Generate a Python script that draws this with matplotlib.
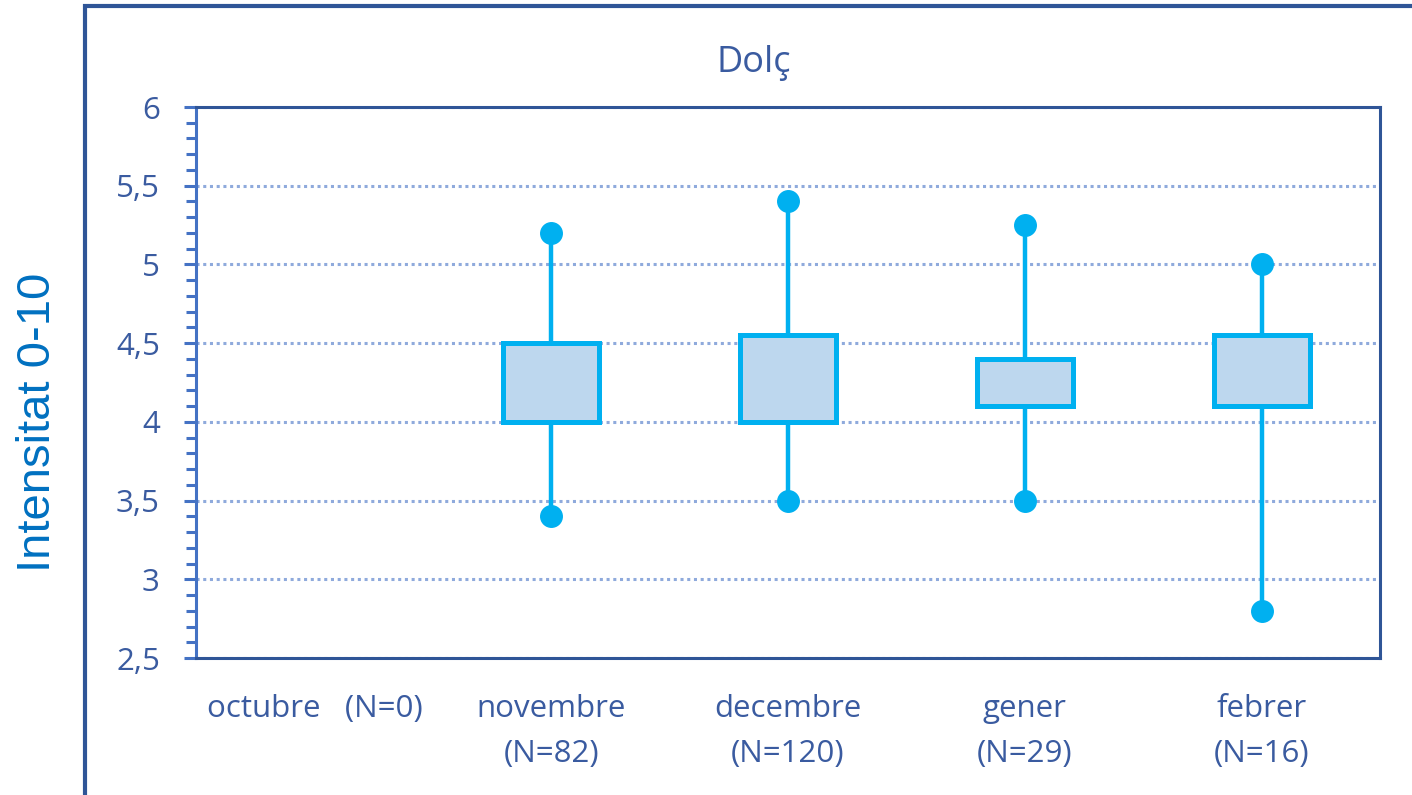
import matplotlib
matplotlib.use("Agg")
import matplotlib.pyplot as plt
import numpy as np
from matplotlib.patches import Rectangle
from matplotlib.ticker import MultipleLocator, FuncFormatter

months = ["octubre   (N=0)", "novembre\n(N=82)", "decembre\n(N=120)", "gener\n(N=29)", "febrer\n(N=16)"]
whisker_high = [np.nan, 5.2, 5.4, 5.25, 5.0]
box_high = [np.nan, 4.5, 4.55, 4.4, 4.55]
box_low = [np.nan, 4.0, 4.0, 4.1, 4.1]
whisker_low = [np.nan, 3.4, 3.5, 3.5, 2.8]
title = "Dolç"
ylabel = "Intensitat 0-10"

TXT = "#3A5BA0"
SPINE = "#2F5597"
CYAN = "#00B0F0"
FILL = "#BDD7EE"
GRID = "#8FAADC"

fig = plt.figure(figsize=(14.12, 7.95), dpi=100)
fig.patch.set_facecolor("white")

# outer frame
fig.patches.append(Rectangle((85/1412, -0.05), 1.2, 1 - 6/795 + 0.05, transform=fig.transFigure,
                             fill=False, edgecolor=SPINE, linewidth=3.0, zorder=0))

ax = fig.add_axes([196/1412, 1 - 658/795, (1380-196)/1412, (658-107)/795])
x = np.arange(len(months))

ax.set_ylim(2.5, 6)
ax.set_xlim(-0.5, len(months) - 0.5)

ax.yaxis.set_major_locator(MultipleLocator(0.5))
ax.yaxis.set_minor_locator(MultipleLocator(0.1))
ax.yaxis.set_major_formatter(FuncFormatter(lambda v, p: ("%g" % v).replace(".", ",")))
ax.grid(axis="y", which="major", color=GRID, linestyle=(0, (1, 1.2)), linewidth=2.2)
ax.set_axisbelow(True)

wl = np.array(whisker_low); wh = np.array(whisker_high)
bl = np.array(box_low); bh = np.array(box_high)
ax.vlines(x, wl, wh, color=CYAN, linewidth=3.2, zorder=2)
ax.bar(x, bh - bl, bottom=bl, width=0.405, color=FILL, edgecolor=CYAN, linewidth=3.6, zorder=3)
ax.plot(x, wh, "o", color=CYAN, markersize=15.5, zorder=4, linestyle="none")
ax.plot(x, wl, "o", color=CYAN, markersize=15.5, zorder=4, linestyle="none")

for s in ["top", "right", "bottom"]:
    ax.spines[s].set_color(SPINE)
    ax.spines[s].set_linewidth(2.2)
ax.spines["left"].set_color("#4472C4")
ax.spines["left"].set_linewidth(2.2)

ax.set_xticks(x)
ax.set_xticklabels(months, fontsize=22.5, color=TXT, family="Open Sans", linespacing=1.65)
ax.tick_params(axis="x", length=0, pad=26)
ax.tick_params(axis="y", which="major", length=9, width=2.2, color="#4472C4",
               labelsize=22.5, labelcolor=TXT, pad=17)
ax.tick_params(axis="y", which="minor", length=7.5, width=2.2, color="#4472C4")
for lab in ax.get_yticklabels():
    lab.set_family("Open Sans")

fig.text(754/1412, 1 - 63/795, title, ha="center", va="center", fontsize=26,
         color=TXT, family="Open Sans")
fig.text(38/1412, 1 - 422/795, ylabel, ha="center", va="center", rotation=90,
         fontsize=34, color="#0070C0", family="Liberation Sans")

fig.savefig("out.png", dpi=100, facecolor="white")
